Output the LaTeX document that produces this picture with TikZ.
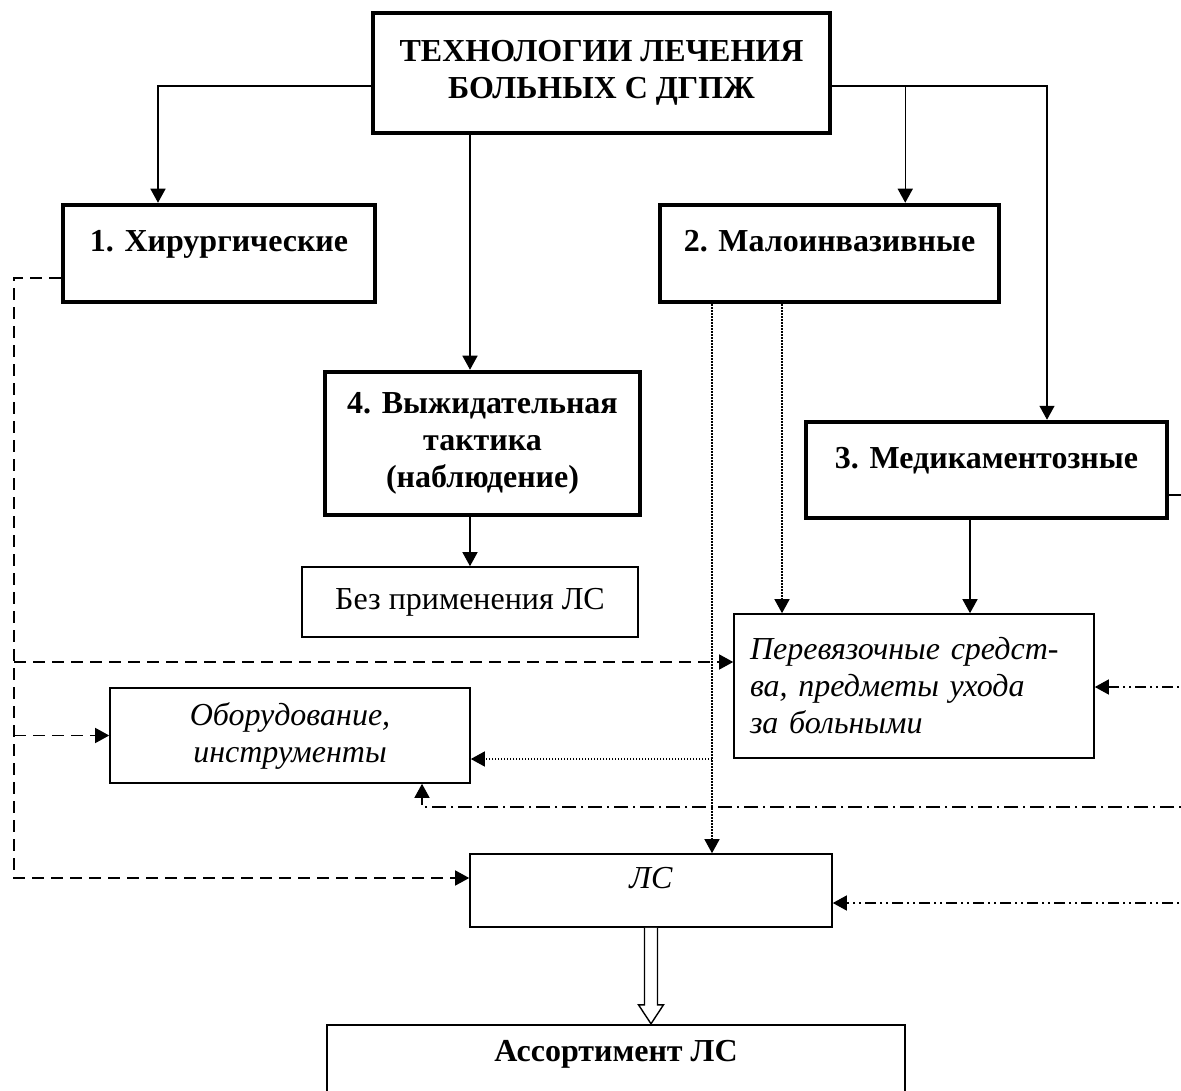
\documentclass[tikz,border=0pt]{standalone}
\usepackage{fontspec}
\setmainfont{Liberation Serif}
\usetikzlibrary{arrows.meta,calc}
\newcommand\diagsize{\fontsize{32}{37}\selectfont}
\tikzset{
  thickbox/.style={draw,line width=4.5pt,inner sep=0pt,align=center,font=\diagsize\bfseries},
  thinbox/.style={draw,line width=1.6pt,inner sep=0pt,align=center,font=\diagsize},
  raised/.style={text height=24pt,text depth=28pt},
  link/.style={line width=1.4pt,-{Triangle[length=14pt,width=15pt]}},
  dashlink/.style={link,dash pattern=on 12pt off 7pt},
  dotlink/.style={link,dash pattern=on 1.5pt off 1.5pt},
  dashdotlink/.style={link,dash pattern=on 14pt off 5pt on 2pt off 5pt},
  dashdotdotlink/.style={link,dash pattern=on 11pt off 4pt on 2pt off 4pt on 2pt off 4pt},
}
\begin{document}
\begin{tikzpicture}[x=1pt,y=-1pt]
\useasboundingbox (0,0) rectangle (1181,1091);
\clip (0,0) rectangle (1181,1091);
% boxes
\node[thickbox,minimum width=457pt,minimum height=120pt] (top) at (601.5,73) {ТЕХНОЛОГИИ ЛЕЧЕНИЯ\\БОЛЬНЫХ С ДГПЖ};
\node[thickbox,raised,minimum width=312pt,minimum height=97pt] (hir) at (219,253.5) {1. Хирургические};
\node[thickbox,raised,minimum width=339pt,minimum height=97pt] (mal) at (829.5,253.5) {2. Малоинвазивные};
\node[thickbox,minimum width=315pt,minimum height=143pt] (wait) at (482.5,443.5) {4. Выжидательная\\тактика\\(наблюдение)};
\node[thickbox,raised,minimum width=361pt,minimum height=96pt] (med) at (986.5,470) {3. Медикаментозные};
\node[thinbox,minimum width=336pt,minimum height=70pt] (nodrug) at (470,602) {Без применения ЛС};
\node[thinbox,font=\diagsize\itshape,align=left,text width=328pt,inner xsep=16pt,minimum height=144pt] (care) at (914,686) {Перевязочные средст-\\ва, предметы ухода\\за больными};
\node[thinbox,font=\diagsize\itshape,minimum width=360pt,minimum height=95pt] (equip) at (290,735.5) {Оборудование,\\инструменты};
\node[thinbox,raised,font=\diagsize\itshape,minimum width=362pt,minimum height=73pt] (drugs) at (651,890.5) {ЛС};
\node[draw,line width=2.4pt,inner sep=0pt,font=\diagsize\bfseries,text height=24pt,text depth=62pt,minimum width=578pt,minimum height=110pt] (range) at (616,1080) {Ассортимент ЛС};
% helper points
\coordinate (lfork) at ($(top.west)+(0,13)$);
\coordinate (fork) at ($(top.east)+(73,13)$);
\coordinate (dtop) at (14,278);
\coordinate (dbot) at (14,878);
\coordinate (dots) at (712,759);
\coordinate (r0) at (1200,495);
\coordinate (r1) at (1200,687);
\coordinate (r2) at (1200,807);
\coordinate (r3) at (1200,903);
% solid links
\draw[link] (lfork) -| (hir.north -| 158,0);
\draw[link] (top.east |- fork) -| (med.north -| 1047,0);
\draw[link] (fork) -- (fork |- mal.north);
\draw[link] (top.south -| nodrug.north) -- (wait.north -| nodrug.north);
\draw[link] (wait.south -| nodrug.north) -- (nodrug.north);
\draw[link] (med.south -| 970,0) -- (care.north -| 970,0);
\draw[line width=1.4pt] (med.east |- r0) -- (r0) -- (r3);
% dotted links
\draw[dotlink] (mal.south -| 782,0) -- (care.north -| 782,0);
\draw[dotlink] (mal.south -| dots) -- (dots |- drugs.north);
\draw[dotlink] (dots) -- (dots -| equip.east);
% dashed links
\draw[dashlink] (hir.west |- dtop) -- (dtop) -- (dbot) -- (dbot -| drugs.west);
\draw[dashlink] (dtop |- 0,662) -- (care.west |- 0,662);
\draw[dashlink] (dtop |- equip.west) -- (equip.west);
% dash-dot links
\draw[dashdotdotlink] (r1) -- (r1 -| care.east);
\draw[dashdotlink] (r2) -- (r2 -| 422,0) -- (equip.south -| 422,0);
\draw[dashdotdotlink] (r3) -- (r3 -| drugs.east);
% hollow arrow
\draw[line width=1.4pt,fill=white] ($(drugs.south)+(-6.5,0)$) -- ($(drugs.south |- range.north)+(-6.5,-19)$) -- ++(-6,0) -- (drugs.south |- range.north) -- ($(drugs.south |- range.north)+(12.5,-19)$) -- ++(-6,0) -- ($(drugs.south)+(6.5,0)$);
\end{tikzpicture}
\end{document}
